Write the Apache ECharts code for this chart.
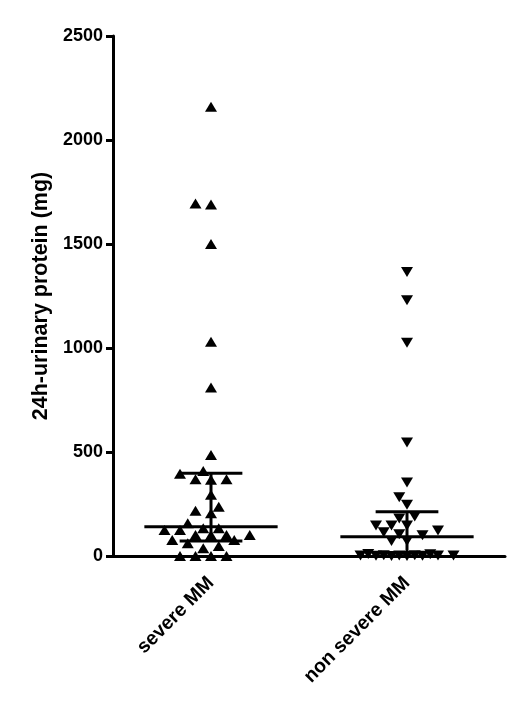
<!DOCTYPE html>
<html><head><meta charset="utf-8">
<script src="https://cdn.jsdelivr.net/npm/echarts@6/dist/echarts.min.js"></script>
<style>html,body{margin:0;padding:0;background:#fff}#c{width:520px;height:701px}</style>
</head><body><div id="c"></div>
<script>
// ---- data ----
const categories = ['severe MM', 'non severe MM'];
const severeValues = [2160, 1695, 1690, 1500, 1030, 810, 486, 409, 395, 369, 366, 369, 294,
  237, 218, 205, 157, 133, 133, 125, 125, 101, 101, 101, 101, 77, 77, 61, 48, 37, 0, 0, 0, 0];
const nonSevereValues = [1365, 1230, 1025, 546, 353, 283, 246, 190, 180, 147, 147, 147, 122, 114,
  104, 100, 72, 72, 10, 8, 4, 3, 2, 1, 0, 0, 1, 2, 3, 4];
const medians = [141, 93];
const lowerQuartiles = [72, 0];
const upperQuartiles = [398, 213];
const yTicks = [0, 500, 1000, 1500, 2000, 2500];

const FONT = '"Liberation Sans", Arial, Helvetica, sans-serif';
const chart = echarts.init(document.getElementById('c'), null, {renderer: 'canvas'});

const baseOption = {
  animation: false,
  backgroundColor: '#fff',
  grid: {left: 113, right: 15, top: 36, bottom: 145, containLabel: false},
  xAxis: [{
    type: 'category', data: categories, boundaryGap: true,
    axisLine: {lineStyle: {color: '#000', width: 3}},
    axisTick: {alignWithLabel: true, length: 7, lineStyle: {color: '#000', width: 3}},
    axisLabel: {rotate: 45, margin: 24, color: '#000', fontFamily: FONT, fontWeight: 'bold', fontSize: 19.5},
    splitLine: {show: false}
  }, {
    type: 'value', min: 0.5, max: 2.5, show: false, splitLine: {show: false}
  }],
  yAxis: {
    type: 'value', min: yTicks[0], max: yTicks[yTicks.length - 1],
    interval: yTicks[1] - yTicks[0],
    name: '24h-urinary protein (mg)', nameLocation: 'middle', nameGap: 52,
    nameTextStyle: {color: '#000', fontFamily: FONT, fontWeight: 'bold', fontSize: 21.5},
    axisLine: {show: true, lineStyle: {color: '#000', width: 3}},
    axisTick: {show: true, length: 7, lineStyle: {color: '#000', width: 3}},
    axisLabel: {margin: 10, color: '#000', fontFamily: FONT, fontWeight: 'bold', fontSize: 18,
      formatter: v => String(v)},
    splitLine: {show: false}
  },
  series: []
};
chart.setOption(baseOption);

// beeswarm layout computed from the values
function swarm(values, yToPx) {
  const step = 7.75, Wc = 9, Hc = 12, maxK = 6;
  const order = values.map((v, i) => ({v, i})).sort((a, b) => a.v - b.v);
  const placed = [];
  const out = new Array(values.length);
  const cands = [0];
  for (let k = 1; k <= maxK; k++) cands.push(-k, k);
  for (const p of order) {
    const py = yToPx(p.v);
    let best = 0, bestScore = -1;
    for (const k of cands) {
      const px = k * step;
      let score = Infinity;
      for (const q of placed) {
        const d = Math.hypot((px - q.x) / Wc, (py - q.y) / Hc);
        if (d < score) score = d;
      }
      if (score >= 1) { best = k; break; }
      if (score > bestScore + 1e-9) { bestScore = score; best = k; }
    }
    placed.push({x: best * step, y: py});
    out[p.i] = best * step;
  }
  return out;
}

const unitPx = chart.convertToPixel({xAxisIndex: 1}, 2) - chart.convertToPixel({xAxisIndex: 1}, 1);
const yToPx = v => chart.convertToPixel({yAxisIndex: 0}, v);

function buildPoints(values, catIdx) {
  const offs = swarm(values, yToPx);
  return values.map((v, i) => [catIdx + 1 + offs[i] / unitPx, v]);
}

const summary = categories.map((c, i) => [i + 1, medians[i], lowerQuartiles[i], upperQuartiles[i]]);

chart.setOption({
  series: [{
    type: 'scatter', xAxisIndex: 1, yAxisIndex: 0,
    data: buildPoints(severeValues, 0),
    symbol: 'triangle', symbolSize: [12, 10],
    itemStyle: {color: '#000', opacity: 1}, clip: false, z: 2
  }, {
    type: 'scatter', xAxisIndex: 1, yAxisIndex: 0,
    data: buildPoints(nonSevereValues, 1),
    symbol: 'triangle', symbolSize: [12, 10], symbolRotate: 180,
    itemStyle: {color: '#000', opacity: 1}, clip: false, z: 2
  }, {
    type: 'custom', xAxisIndex: 1, yAxisIndex: 0, z: 3, clip: false,
    data: summary,
    encode: {x: 0, y: 1},
    renderItem: function (params, api) {
      const x = api.value(0);
      const pMed = api.coord([x, api.value(1)]);
      const pQ1 = api.coord([x, api.value(2)]);
      const pQ3 = api.coord([x, api.value(3)]);
      const unit = api.size([1, 0])[0];
      const mh = unit * 0.34, ch = unit * 0.16;
      const style = {stroke: '#000', lineWidth: 3};
      return {type: 'group', children: [
        {type: 'line', shape: {x1: pQ1[0], y1: pQ1[1], x2: pQ3[0], y2: pQ3[1]}, style},
        {type: 'line', shape: {x1: pMed[0] - mh, y1: pMed[1], x2: pMed[0] + mh, y2: pMed[1]}, style},
        {type: 'line', shape: {x1: pQ1[0] - ch, y1: pQ1[1], x2: pQ1[0] + ch, y2: pQ1[1]}, style},
        {type: 'line', shape: {x1: pQ3[0] - ch, y1: pQ3[1], x2: pQ3[0] + ch, y2: pQ3[1]}, style}
      ]};
    }
  }]
});
</script>
</body></html>
